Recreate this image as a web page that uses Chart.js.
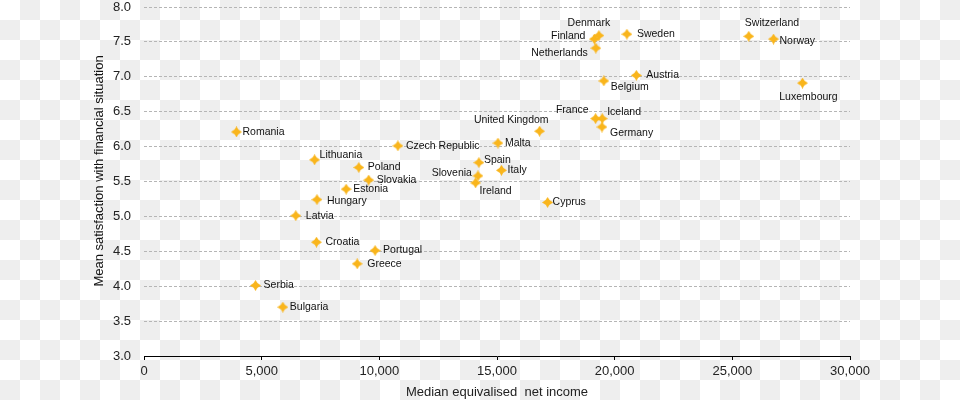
<!DOCTYPE html>
<html>
<head>
<meta charset="utf-8">
<script src="https://cdn.jsdelivr.net/npm/chart.js@4/dist/chart.umd.min.js"></script>
<style>
    html, body { margin: 0; padding: 0; }
    body {
        width: 960px;
        height: 400px;
        /* transparency checkerboard seen behind the reference */
        background: repeating-conic-gradient(#eeeeee 0 25%, #ffffff 0 50%) 0 0 / 40px 40px;
    }
    #wrap { width: 960px; height: 400px; }
</style>
</head>
<body>
<div id="wrap"><canvas id="scatterChart" width="960" height="400"></canvas></div>
<script>
// Countries, median equivalised net income and mean satisfaction
const countries = [
    'Romania', 'Serbia', 'Bulgaria', 'Latvia', 'Lithuania', 'Croatia', 'Hungary',
    'Estonia', 'Greece', 'Poland', 'Slovakia', 'Portugal', 'Czech Republic',
    'Ireland', 'Slovenia', 'Spain', 'Malta', 'Italy', 'United Kingdom', 'Cyprus',
    'Finland', 'France', 'Netherlands', 'Denmark', 'Germany', 'Iceland', 'Belgium',
    'Sweden', 'Austria', 'Switzerland', 'Norway', 'Luxembourg'
];
const incomes = [
    3930, 4740, 5900, 6450, 7250, 7330, 7350,
    8590, 9060, 9130, 9550, 9820, 10790,
    14090, 14190, 14230, 15040, 15190, 16810, 17150,
    19140, 19190, 19200, 19330, 19460, 19470, 19540,
    20520, 20920, 25700, 26750, 27980
];
const satisfaction = [
    6.21, 4.01, 3.70, 5.01, 5.81, 4.63, 5.24,
    5.39, 4.32, 5.70, 5.52, 4.51, 6.01,
    5.48, 5.58, 5.77, 6.05, 5.66, 6.22, 5.20,
    7.54, 6.40, 7.41, 7.59, 6.28, 6.40, 6.94,
    7.61, 7.02, 7.58, 7.54, 6.91
];
const xTicks = [0, 5000, 10000, 15000, 20000, 25000, 30000];
const yTicks = [3.0, 3.5, 4.0, 4.5, 5.0, 5.5, 6.0, 6.5, 7.0, 7.5, 8.0];

// where each country's name sits next to its marker: [textAlign, dx, dy]
const labelPlacement = {
    'Romania': ['left', 6, 0], 'Serbia': ['left', 8, 0], 'Bulgaria': ['left', 7, 0],
    'Latvia': ['left', 10, 0], 'Lithuania': ['left', 5, -5], 'Croatia': ['left', 9, 0],
    'Hungary': ['left', 10, 1], 'Estonia': ['left', 7, 0], 'Greece': ['left', 10, 0],
    'Poland': ['left', 9, 0], 'Slovakia': ['left', 8, 0], 'Portugal': ['left', 8, 0],
    'Czech Republic': ['left', 8, 0], 'Ireland': ['left', 4, 8], 'Slovenia': ['right', -6, -3],
    'Spain': ['left', 5, -3], 'Malta': ['left', 7, 0], 'Italy': ['left', 6, 0],
    'United Kingdom': ['right', 9, -11], 'Cyprus': ['left', 5, 0], 'Finland': ['right', -9, -3],
    'France': ['right', -7, -9], 'Netherlands': ['right', -8, 5], 'Denmark': ['center', -10, -13],
    'Germany': ['left', 8, 6], 'Iceland': ['left', 5, -7], 'Belgium': ['left', 7, 6],
    'Sweden': ['left', 10, 0], 'Austria': ['left', 10, 0], 'Switzerland': ['left', -4, -13],
    'Norway': ['left', 6, 2], 'Luxembourg': ['center', 6, 14]
};

const markerColor = '#f9b51c';

// four-point "sparkle" marker like the original
function makeMarker() {
    const c = document.createElement('canvas');
    c.width = 11;
    c.height = 11;
    const g = c.getContext('2d');
    const m = 5.5;
    const r = 5.5;
    const k = 1.6;
    g.fillStyle = markerColor;
    g.beginPath();
    g.moveTo(m, m - r);
    g.quadraticCurveTo(m + k, m - k, m + r, m);
    g.quadraticCurveTo(m + k, m + k, m, m + r);
    g.quadraticCurveTo(m - k, m + k, m - r, m);
    g.quadraticCurveTo(m - k, m - k, m, m - r);
    g.closePath();
    g.fill();
    return c;
}

const points = incomes.map((x, i) => ({ x: x, y: satisfaction[i], name: countries[i] }));

// draws country names beside the markers
const countryLabels = {
    id: 'countryLabels',
    afterDatasetsDraw(chart) {
        const ctx = chart.ctx;
        const meta = chart.getDatasetMeta(0);
        ctx.save();
        ctx.font = '10.5px "Liberation Sans", Arial, sans-serif';
        ctx.fillStyle = '#111';
        ctx.textBaseline = 'middle';
        meta.data.forEach((el, i) => {
            const name = countries[i];
            const p = labelPlacement[name] || ['left', 7, 0];
            ctx.textAlign = p[0];
            ctx.fillText(name, el.x + p[1], el.y + p[2]);
        });
        ctx.restore();
    }
};

// y axis title, placed a little above centre as in the reference
const yTitle = {
    id: 'yTitle',
    afterDraw(chart) {
        const ctx = chart.ctx;
        ctx.save();
        ctx.translate(99, 171);
        ctx.rotate(-Math.PI / 2);
        ctx.font = '13px "Liberation Sans", Arial, sans-serif';
        ctx.fillStyle = '#111';
        ctx.textAlign = 'center';
        ctx.textBaseline = 'middle';
        ctx.fillText('Mean satisfaction with financial situation', 0, 0);
        ctx.restore();
    }
};

const ctx = document.getElementById('scatterChart').getContext('2d');
new Chart(ctx, {
    type: 'scatter',
    data: {
        datasets: [{
            label: 'Countries',
            data: points,
            pointStyle: makeMarker(),
            pointRadius: 5,
            backgroundColor: markerColor,
            borderColor: markerColor
        }]
    },
    options: {
        responsive: false,
        animation: false,
        layout: {
            padding: { left: 0, right: 110, top: 7, bottom: 0 }
        },
        plugins: {
            legend: { display: false },
            tooltip: { enabled: false }
        },
        scales: {
            x: {
                type: 'linear',
                min: 0,
                max: 30000,
                afterBuildTicks: function(scale) {
                    scale.ticks = xTicks.map(v => ({ value: v }));
                },
                afterFit: function(scale) {
                    scale.height = 44;
                },
                grid: {
                    drawOnChartArea: false,
                    drawTicks: true,
                    tickLength: 4,
                    color: '#000'
                },
                border: { display: true, color: '#000', width: 1 },
                ticks: {
                    padding: 4,
                    color: '#222',
                    font: { family: '"Liberation Sans", Arial, sans-serif', size: 13 },
                    callback: function(value) {
                        return value.toLocaleString('en-US'); // 5,000 style
                    }
                },
                title: {
                    display: true,
                    text: 'Median equivalised  net income',
                    color: '#222',
                    padding: { top: 0, bottom: 0 },
                    font: { family: '"Liberation Sans", Arial, sans-serif', size: 13 }
                }
            },
            y: {
                type: 'linear',
                min: 3,
                max: 8,
                afterBuildTicks: function(scale) {
                    scale.ticks = yTicks.map(v => ({ value: v }));
                },
                afterFit: function(scale) {
                    scale.width = 144;
                    // tick padding would otherwise push the plot down
                    scale.paddingTop = 0;
                    scale.paddingBottom = 0;
                },
                grid: {
                    drawTicks: false,
                    color: '#b5b5b5',
                    lineWidth: 1
                },
                border: { display: false, dash: [3, 2] },
                ticks: {
                    padding: 13,
                    color: '#222',
                    font: { family: '"Liberation Sans", Arial, sans-serif', size: 13 },
                    callback: function(value) {
                        return value.toFixed(1);
                    }
                }
            }
        }
    },
    plugins: [countryLabels, yTitle]
});
</script>
</body>
</html>
